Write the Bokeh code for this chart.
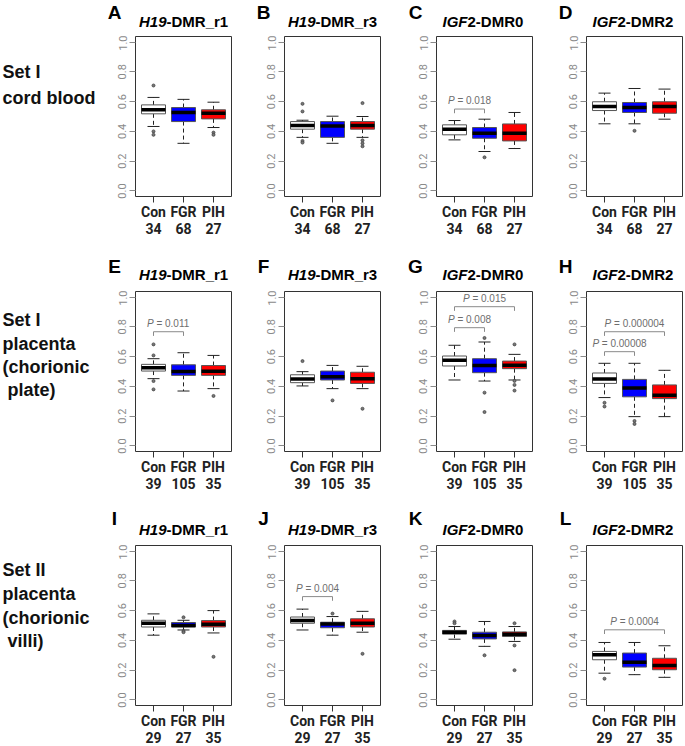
from bokeh.plotting import figure
from bokeh.layouts import row, column
from bokeh.models import Range1d, Label, FixedTicker, PrintfTickFormatter, LinearAxis
from bokeh.core.properties import value
from bokeh.embed import file_html
from bokeh.resources import INLINE

# ---------------- data ----------------
GROUPS = ["Con", "FGR", "PIH"]
XPOS = [1, 2, 3]
BOX_COLORS = ["#ffffff", "#0000ff", "#ff0000"]
PANELS = [["A", "B", "C", "D"], ["E", "F", "G", "H"], ["I", "J", "K", "L"]]
ROW_LABELS = [["Set I", "cord blood"],
              ["Set I", "placenta", "(chorionic", "\u00a0plate)"],
              ["Set II", "placenta", "(chorionic", "\u00a0villi)"]]
ROW_COUNTS = [[34, 68, 27], [39, 105, 35], [29, 27, 35]]
TITLE_ITALIC = ["H19", "H19", "IGF", "IGF"]
TITLE_PLAIN = ["-DMR_r1", "-DMR_r3", "2-DMR0", "2-DMR2"]
Y_TICKS = [0.0, 0.2, 0.4, 0.6, 0.8, 1.0]

Q1 = {
    "A": [0.518, 0.466, 0.484], "B": [0.415, 0.360, 0.415], "C": [0.377, 0.354, 0.336], "D": [0.540, 0.527, 0.522],
    "E": [0.503, 0.474, 0.474], "F": [0.425, 0.443, 0.420], "G": [0.537, 0.492, 0.519], "H": [0.420, 0.330, 0.318],
    "I": [0.490, 0.490, 0.490], "J": [0.515, 0.485, 0.490], "K": [0.442, 0.410, 0.426], "L": [0.270, 0.221, 0.203],
}
MED = {
    "A": [0.545, 0.527, 0.522], "B": [0.440, 0.437, 0.440], "C": [0.415, 0.388, 0.388], "D": [0.567, 0.560, 0.567],
    "E": [0.526, 0.500, 0.502], "F": [0.450, 0.465, 0.452], "G": [0.575, 0.540, 0.542], "H": [0.450, 0.390, 0.340],
    "I": [0.515, 0.500, 0.508], "J": [0.533, 0.510, 0.515], "K": [0.455, 0.433, 0.442], "L": [0.304, 0.254, 0.232],
}
Q3 = {
    "A": [0.578, 0.560, 0.545], "B": [0.466, 0.466, 0.466], "C": [0.444, 0.426, 0.450], "D": [0.599, 0.594, 0.599],
    "E": [0.548, 0.545, 0.540], "F": [0.478, 0.503, 0.495], "G": [0.604, 0.586, 0.570], "H": [0.490, 0.447, 0.410],
    "I": [0.535, 0.520, 0.533], "J": [0.557, 0.522, 0.545], "K": [0.467, 0.455, 0.457], "L": [0.326, 0.315, 0.280],
}
WLO = {
    "A": [0.433, 0.320, 0.426], "B": [0.360, 0.320, 0.360], "C": [0.343, 0.265, 0.285], "D": [0.451, 0.451, 0.482],
    "E": [0.452, 0.369, 0.385], "F": [0.403, 0.385, 0.385], "G": [0.443, 0.436, 0.443], "H": [0.325, 0.197, 0.197],
    "I": [0.435, 0.470, 0.450], "J": [0.470, 0.435, 0.455], "K": [0.408, 0.360, 0.393], "L": [0.180, 0.170, 0.152],
}
WHI = {
    "A": [0.628, 0.615, 0.596], "B": [0.475, 0.502, 0.500], "C": [0.473, 0.482, 0.527], "D": [0.657, 0.688, 0.684],
    "E": [0.586, 0.626, 0.608], "F": [0.499, 0.541, 0.535], "G": [0.676, 0.698, 0.615], "H": [0.555, 0.555, 0.508],
    "I": [0.578, 0.535, 0.600], "J": [0.610, 0.560, 0.595], "K": [0.493, 0.527, 0.493], "L": [0.386, 0.386, 0.364],
}
OUTLIERS = {
    "A": [[0.708, 0.400, 0.377], [], [0.392, 0.377]],
    "B": [[0.585, 0.534, 0.336, 0.325], [], [0.590, 0.340, 0.320, 0.300]],
    "C": [[], [0.226], []],
    "D": [[], [0.404], []],
    "E": [[0.682, 0.608, 0.436, 0.380], [], [0.336]],
    "F": [[0.570], [0.306], [0.250]],
    "G": [[], [0.725, 0.358, 0.228], [0.682, 0.437, 0.410, 0.372]],
    "H": [[0.290, 0.265], [0.168, 0.148], []],
    "I": [[], [0.555, 0.463, 0.455], [0.290]],
    "J": [[], [0.580], [0.310]],
    "K": [[0.527, 0.515], [0.300], [0.515, 0.366, 0.200]],
    "L": [[0.143], [], []],
}
# panel, from group, to group, bracket height, p-value
BRACKETS = [
    ("C", 1, 2, 0.550, "0.018"),
    ("E", 1, 2, 0.767, "0.011"),
    ("G", 1, 2, 0.794, "0.008"),
    ("G", 1, 3, 0.935, "0.015"),
    ("H", 1, 2, 0.633, "0.00008"),
    ("H", 1, 3, 0.767, "0.000004"),
    ("J", 1, 2, 0.694, "0.004"),
    ("L", 1, 3, 0.471, "0.0004"),
]

# ---------------- layout / style ----------------
RLW = 110                 # row-label strip width
LB = 25                   # left border of every panel (y axis)
FW, FH = 96, 160          # frame size
RB = [28, 31, 29, 2]      # right borders
HEADER = [35, 54, 53]     # header strip heights (letters + titles)
TOPB = 1
BOTB = [40, 40, 40]
X_START, X_END = 0.4, 3.6
Y_START, Y_END = -0.037, 1.037
LETTER_ABOVE = [24, 25, 27]   # centre of panel letter above frame top
TITLE_ABOVE = [15, 17, 16]    # centre of title above frame top
ROW_LABEL_OFF = [[35, 61], [28, 52, 75, 98], [24, 48, 72, 95]]
SANS = "Liberation Sans"
COND = "Roboto"
BOX_W = 0.8
CAP_W = 0.4
LEG = 0.028
TOTAL_W = RLW + sum(LB + FW + r for r in RB)

FRAME_LEFT = []
_acc = RLW
for _r in RB:
    FRAME_LEFT.append(_acc + LB)
    _acc += LB + FW + _r

# approx Arial advance widths (em) for centring the mixed-style p-value labels
CW = {"P": 0.667, " ": 0.278, "=": 0.584, ".": 0.278}


def text_w(s, size):
    return sum(CW.get(ch, 0.556) for ch in s) * size


def blank_fig(w, h, top=0, bottom=0, yspan=None):
    ys = yspan if yspan is not None else h
    f = figure(width=w, height=h, x_range=Range1d(0, w), y_range=Range1d(ys, 0),
               output_backend="svg", toolbar_location=None, title=None,
               x_axis_type=None, y_axis_type=None,
               min_border_left=0, min_border_right=0, min_border_top=top, min_border_bottom=bottom)
    f.xgrid.visible = False
    f.ygrid.visible = False
    f.outline_line_color = None
    f.background_fill_color = "white"
    f.border_fill_color = "white"
    return f


def make_header(r):
    h = HEADER[r]
    f = blank_fig(TOTAL_W, h)
    for c in range(4):
        key = PANELS[r][c]
        fl = FRAME_LEFT[c]
        f.add_layout(Label(x=fl - 21, y=h + TOPB - LETTER_ABOVE[r], text=key,
                           text_align="center", text_baseline="middle", text_font=SANS,
                           text_font_size="19px", text_font_style="bold", text_color="black"))
        xs = fl + FW / 2 - 17
        ty = h + TOPB - TITLE_ABOVE[r]
        f.add_layout(Label(x=xs, y=ty, text=TITLE_ITALIC[c],
                           text_align="right", text_baseline="middle", text_font=SANS,
                           text_font_size="15px", text_font_style="bold italic", text_color="black"))
        f.add_layout(Label(x=xs, y=ty, text=TITLE_PLAIN[c],
                           text_align="left", text_baseline="middle", text_font=SANS,
                           text_font_size="15px", text_font_style="bold", text_color="black"))
    return f


def make_rowlabel(r):
    # same borders as the panels of its row, so its frame lines up with theirs
    f = blank_fig(RLW, TOPB + FH + BOTB[r], top=TOPB, bottom=BOTB[r], yspan=FH)
    for line, off in zip(ROW_LABELS[r], ROW_LABEL_OFF[r]):
        f.add_layout(Label(x=2, y=off, text=line,
                           text_align="left", text_baseline="middle", text_font=SANS,
                           text_font_size="18px", text_font_style="bold", text_color="#111111"))
    return f


def make_panel(r, c):
    key = PANELS[r][c]
    p = figure(width=LB + FW + RB[c], height=TOPB + FH + BOTB[r],
               x_range=Range1d(X_START, X_END), y_range=Range1d(Y_START, Y_END),
               output_backend="svg", toolbar_location=None, title=None,
               min_border_left=LB, min_border_right=RB[c],
               min_border_top=TOPB, min_border_bottom=BOTB[r])
    p.xgrid.visible = False
    p.ygrid.visible = False
    p.outline_line_color = "#333333"
    p.outline_line_width = 1
    p.background_fill_color = "white"
    p.border_fill_color = "white"

    # y axis
    p.yaxis.ticker = FixedTicker(ticks=Y_TICKS)
    p.yaxis.formatter = PrintfTickFormatter(format="%.1f")
    p.yaxis.major_label_orientation = "vertical"
    p.yaxis.major_label_text_font = COND
    p.yaxis.major_label_text_font_size = "11px"
    p.yaxis.major_label_text_color = "#8a8a8a"
    p.yaxis.major_tick_line_color = "#8a8a8a"
    p.yaxis.major_tick_out = 6
    p.yaxis.major_tick_in = 0
    p.yaxis.minor_tick_out = 0
    p.yaxis.minor_tick_line_color = None
    p.yaxis.axis_line_color = None
    p.yaxis.major_label_standoff = 3

    # x axis: group names
    p.xaxis.ticker = FixedTicker(ticks=XPOS)
    p.xaxis.major_label_overrides = {x: g for x, g in zip(XPOS, GROUPS)}
    p.xaxis.major_label_text_font = COND
    p.xaxis.major_label_text_font_size = "14px"
    p.xaxis.major_label_text_font_style = "bold"
    p.xaxis.major_label_text_color = "#222222"
    p.xaxis.major_tick_line_color = "#333333"
    p.xaxis.major_tick_out = 6
    p.xaxis.major_tick_in = 0
    p.xaxis.minor_tick_out = 0
    p.xaxis.minor_tick_line_color = None
    p.xaxis.axis_line_color = None
    p.xaxis.major_label_standoff = 1

    # second x axis: group sizes
    ax2 = LinearAxis(ticker=FixedTicker(ticks=XPOS),
                     major_label_overrides={x: str(n) for x, n in zip(XPOS, ROW_COUNTS[r])},
                     major_label_text_font=COND, major_label_text_font_size="14px",
                     major_label_text_font_style="bold", major_label_text_color="#222222",
                     major_tick_out=0, major_tick_in=0, minor_tick_out=0, minor_tick_in=0,
                     major_tick_line_color=None, minor_tick_line_color=None,
                     axis_line_color=None, major_label_standoff=0)
    p.add_layout(ax2, "below")

    q1, med, q3, lo, hi = Q1[key], MED[key], Q3[key], WLO[key], WHI[key]

    # whiskers (dashed)
    p.segment(x0=XPOS, y0=q3, x1=XPOS, y1=hi, line_color="#222222", line_width=1, line_dash="4 3")
    p.segment(x0=XPOS, y0=q1, x1=XPOS, y1=lo, line_color="#222222", line_width=1, line_dash="4 3")
    # caps
    p.segment(x0=[x - CAP_W / 2 for x in XPOS], y0=hi, x1=[x + CAP_W / 2 for x in XPOS], y1=hi,
              line_color="#222222", line_width=1)
    p.segment(x0=[x - CAP_W / 2 for x in XPOS], y0=lo, x1=[x + CAP_W / 2 for x in XPOS], y1=lo,
              line_color="#222222", line_width=1)
    # boxes
    p.vbar(x=XPOS, width=BOX_W, bottom=q1, top=q3, fill_color=BOX_COLORS,
           line_color="#555555", line_width=1)
    # medians
    p.segment(x0=[x - BOX_W / 2 for x in XPOS], y0=med, x1=[x + BOX_W / 2 for x in XPOS], y1=med,
              line_color="black", line_width=3.5, line_cap="butt")
    # outliers
    ox, oy = [], []
    for x, vals in zip(XPOS, OUTLIERS[key]):
        for v in vals:
            ox.append(x)
            oy.append(v)
    if ox:
        p.scatter(x=ox, y=oy, marker="circle", size=3, line_color="#444444",
                  fill_color="#777777", line_width=0.8)

    # p-value brackets
    for (k, a, b, yb, pv) in BRACKETS:
        if k != key:
            continue
        p.multi_line(xs=[[a, a, b, b]], ys=[[yb - LEG, yb, yb, yb - LEG]],
                     line_color="#8a8a8a", line_width=1)
        fs = 10
        rest = "= " + pv
        total = text_w("P = " + pv, fs)
        off = -total / 2 + text_w("P", fs)
        xm = (a + b) / 2
        p.text(x=[xm], y=[yb], text=["P"], x_offset=off, y_offset=-3,
               text_align="right", text_baseline="bottom",
               text_font=value(SANS), text_font_size="10px", text_font_style="italic",
               text_color="#6e6e6e")
        p.text(x=[xm], y=[yb], text=[rest], x_offset=off + text_w(" ", fs), y_offset=-3,
               text_align="left", text_baseline="bottom",
               text_font=value(SANS), text_font_size="10px", text_color="#6e6e6e")
    return p


items = []
for r in range(3):
    items.append(make_header(r))
    items.append(row([make_rowlabel(r)] + [make_panel(r, c) for c in range(4)], spacing=0))
layout = column(items, spacing=0)

open("out.html", "w").write(file_html(layout, INLINE))
